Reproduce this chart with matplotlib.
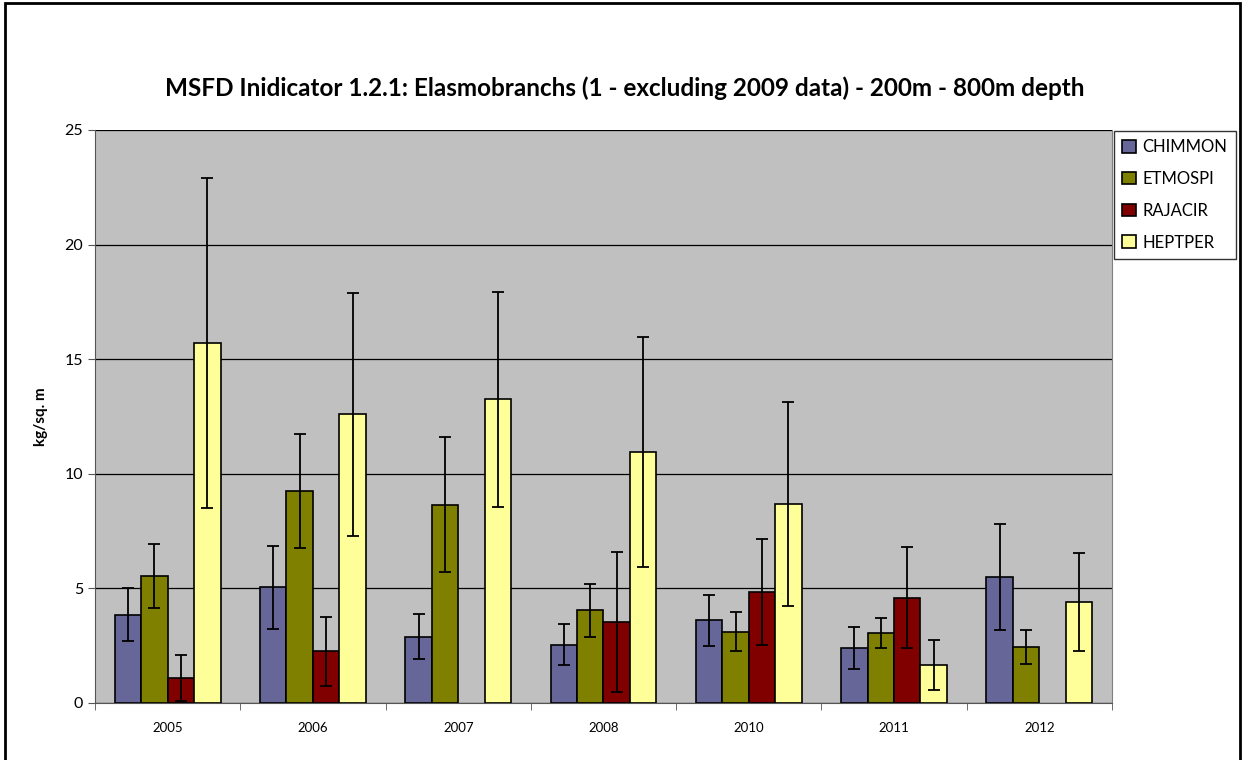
import numpy as np
import matplotlib
matplotlib.use('Agg')
import matplotlib.pyplot as plt
from matplotlib.patches import Rectangle

# ==========================================
# DATA
# ==========================================
years = ['2005', '2006', '2007', '2008', '2010', '2011', '2012']
species = ['CHIMMON', 'ETMOSPI', 'RAJACIR', 'HEPTPER']

chimmon = [3.85, 5.05, 2.9, 2.55, 3.6, 2.4, 5.5]
chimmon_err = [1.15, 1.8, 1.0, 0.9, 1.1, 0.9, 2.3]
etmospi = [5.55, 9.25, 8.65, 4.05, 3.1, 3.05, 2.45]
etmospi_err = [1.4, 2.5, 2.95, 1.15, 0.85, 0.65, 0.75]
rajacir = [1.1, 2.25, np.nan, 3.55, 4.85, 4.6, np.nan]
rajacir_err = [1.0, 1.5, np.nan, 3.05, 2.3, 2.2, np.nan]
heptper = [15.7, 12.6, 13.25, 10.95, 8.7, 1.65, 4.4]
heptper_err = [7.2, 5.3, 4.7, 5.0, 4.45, 1.1, 2.15]

colors = ['#666699', '#808000', '#800000', '#FFFF99']

plt.rcParams['font.family'] = ['Lato', 'DejaVu Sans']

fig = plt.figure(figsize=(12.42, 7.6), dpi=100)
ax = fig.add_axes([0.0765, 0.075, 0.8188, 0.754])
ax.set_facecolor('#C0C0C0')

# outer chart border
fig.patches.append(Rectangle((0.004, -0.01), 0.994, 1.006, transform=fig.transFigure,
                             fill=False, edgecolor='black', linewidth=2))

x = np.arange(len(years))
width = 0.182
series = [(chimmon, chimmon_err), (etmospi, etmospi_err),
          (rajacir, rajacir_err), (heptper, heptper_err)]
for i, (vals, errs) in enumerate(series):
    pos = x + (i - 1.5) * width
    ax.bar(pos, vals, width, color=colors[i], edgecolor='black', linewidth=1.2,
           label=species[i], zorder=3)
    ax.errorbar(pos, vals, yerr=errs, fmt='none', ecolor='black', elinewidth=1.3,
                capsize=4.5, capthick=1.3, zorder=4)

ax.set_xlim(-0.5, len(years) - 0.5)
ax.set_ylim(0, 25)
ax.set_yticks([0, 5, 10, 15, 20, 25])
ax.yaxis.grid(True, color='black', linewidth=0.9, zorder=1)
ax.set_axisbelow(True)

ax.set_xticks(x)
ax.set_xticklabels(years, fontsize=9.5)
ax.tick_params(axis='x', which='major', length=0, pad=14)
ax.set_xticks(np.arange(-0.5, len(years)), minor=True)
ax.tick_params(axis='x', which='minor', length=5, color='#555555')
ax.tick_params(axis='y', labelsize=11.5, length=5, color='#555555')

ax.spines['top'].set_visible(False)
ax.spines['right'].set_color('#808080')
ax.spines['left'].set_color('#555555')
ax.spines['bottom'].set_color('#555555')

ax.set_ylabel('kg/sq. m', fontsize=11, fontweight='bold', labelpad=12)

fig.text(0.503, 0.884, 'MSFD Inidicator 1.2.1: Elasmobranchs (1 - excluding 2009 data) - 200m - 800m depth',
         ha='center', va='center', fontsize=17.5, fontweight='bold')

leg = fig.legend(*ax.get_legend_handles_labels(), loc='upper left',
                 bbox_to_anchor=(0.897, 0.828), fontsize=12,
                 frameon=True, fancybox=False, edgecolor='black', borderaxespad=0,
                 handlelength=0.8, handleheight=0.8, handletextpad=0.4,
                 labelspacing=0.95, borderpad=0.5)
leg.get_frame().set_linewidth(1.0)

plt.savefig('out.png', dpi=100)
